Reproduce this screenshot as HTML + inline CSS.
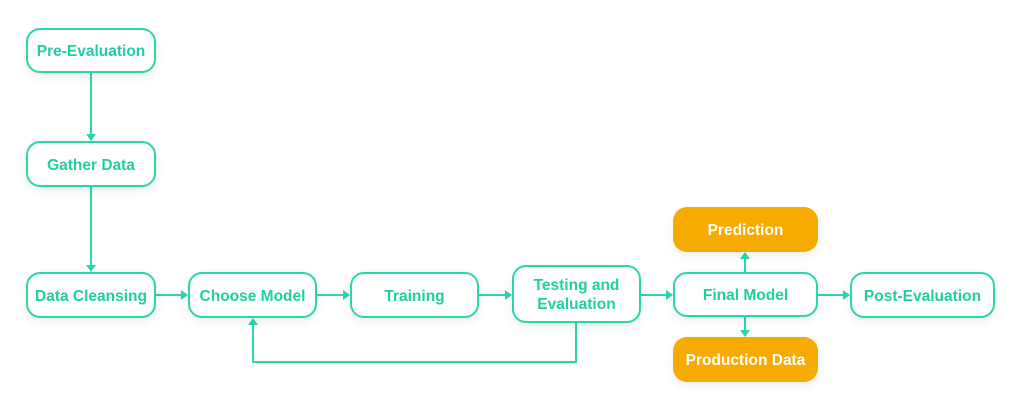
<!DOCTYPE html>
<html><head><style>
body{margin:0;width:1024px;height:410px;background:#fff;position:relative;overflow:hidden;font-family:"Liberation Sans",sans-serif;}
.b{position:absolute;box-sizing:border-box;border:2px solid #2bd6ac;border-radius:14px;background:#fff;color:#1fcf9f;font-weight:bold;font-size:15.5px;display:flex;align-items:center;justify-content:center;text-align:center;line-height:19px;padding-top:2px;box-shadow:0 4px 10px rgba(0,0,0,0.07);}
.o{background:#f7aa00;border:none;color:#fff;}
svg{position:absolute;left:0;top:0;}
</style></head><body>
<svg width="1024" height="410">
<g stroke="#2bd6ac" stroke-width="2" fill="none">
<line x1="91" y1="73" x2="91" y2="134"/>
<line x1="91" y1="187" x2="91" y2="265"/>
<line x1="156" y1="295" x2="181" y2="295"/>
<line x1="317" y1="295" x2="343" y2="295"/>
<line x1="479" y1="295" x2="505" y2="295"/>
<line x1="641" y1="295" x2="666" y2="295"/>
<line x1="818" y1="295" x2="843" y2="295"/>
<line x1="745" y1="272" x2="745" y2="259"/>
<line x1="745" y1="317" x2="745" y2="330"/>
<polyline points="576,323 576,362 253,362 253,325"/>
</g>
<g fill="#2bd6ac">
<polygon points="86,134 96,134 91,141"/>
<polygon points="86,265 96,265 91,272"/>
<polygon points="181,290 181,300 188,295"/>
<polygon points="343,290 343,300 350,295"/>
<polygon points="505,290 505,300 512,295"/>
<polygon points="666,290 666,300 673,295"/>
<polygon points="843,290 843,300 850,295"/>
<polygon points="740,259 750,259 745,252"/>
<polygon points="740,330 750,330 745,337"/>
<polygon points="248,325 258,325 253,318"/>
</g>
</svg>
<div class="b" style="left:26px;top:28px;width:130px;height:45px">Pre-Evaluation</div>
<div class="b" style="left:26px;top:141px;width:130px;height:46px">Gather Data</div>
<div class="b" style="left:26px;top:272px;width:130px;height:46px">Data Cleansing</div>
<div class="b" style="left:188px;top:272px;width:129px;height:46px">Choose Model</div>
<div class="b" style="left:350px;top:272px;width:129px;height:46px">Training</div>
<div class="b" style="left:512px;top:265px;width:129px;height:58px">Testing and<br>Evaluation</div>
<div class="b" style="left:673px;top:272px;width:145px;height:45px">Final Model</div>
<div class="b o" style="left:673px;top:207px;width:145px;height:45px">Prediction</div>
<div class="b o" style="left:673px;top:337px;width:145px;height:45px">Production Data</div>
<div class="b" style="left:850px;top:272px;width:145px;height:46px">Post-Evaluation</div>
</body></html>
